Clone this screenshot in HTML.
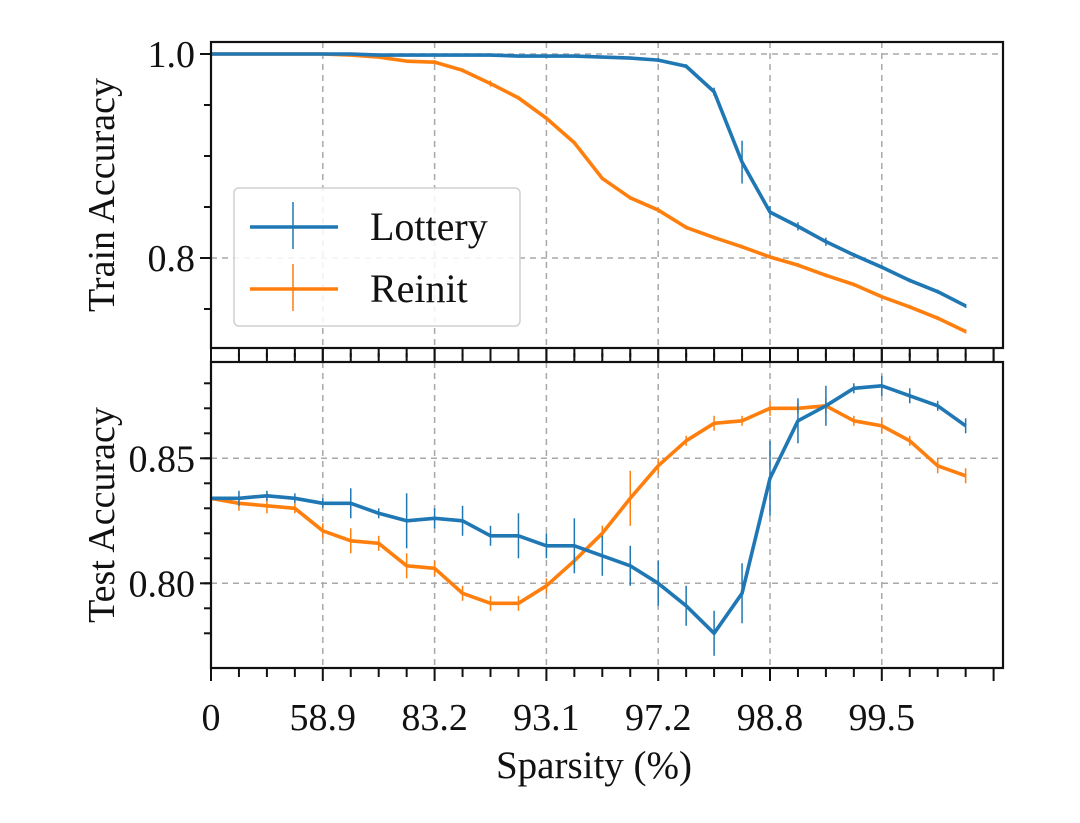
<!DOCTYPE html>
<html><head><meta charset="utf-8"><style>
html,body{margin:0;padding:0;background:#fff;}
svg text{font-family:"Liberation Serif",serif;fill:#111;}
</style></head><body>
<svg id="chart" width="1080" height="818" viewBox="0 0 1080 818" xmlns="http://www.w3.org/2000/svg"></svg>
<script>
const xTickLabels=["0","58.9","83.2","93.1","97.2","98.8","99.5"];
const lotteryTrain=[1.0,1.0,1.0,1.0,1.0,1.0,0.999,0.999,0.999,0.999,0.999,0.998,0.998,0.998,0.997,0.996,0.994,0.988,0.963,0.894,0.845,0.831,0.816,0.803,0.791,0.778,0.767,0.753];
const lotteryTrainErr=[0,0,0,0,0,0,0,0,0,0,0,0,0,0,0,0,0.002,0.002,0.004,0.021,0.006,0.004,0.004,0.002,0.002,0.002,0.002,0.002];
const reinitTrain=[1.0,1.0,1.0,1.0,1.0,0.999,0.997,0.993,0.992,0.984,0.971,0.957,0.937,0.913,0.878,0.859,0.847,0.830,0.820,0.811,0.801,0.793,0.783,0.774,0.762,0.752,0.741,0.728];
const reinitTrainErr=[0,0,0,0,0,0,0,0,0.002,0.002,0.003,0.002,0.002,0.002,0.002,0.002,0.002,0.002,0.002,0.002,0.002,0.002,0.002,0.002,0.002,0.002,0.002,0.002];
const lotteryTest=[0.834,0.834,0.835,0.834,0.832,0.832,0.828,0.825,0.826,0.825,0.819,0.819,0.815,0.815,0.811,0.807,0.800,0.791,0.780,0.796,0.842,0.865,0.871,0.878,0.879,0.875,0.871,0.863];
const lotteryTestErr=[0.002,0.003,0.002,0.002,0.002,0.006,0.002,0.011,0.004,0.006,0.004,0.009,0.005,0.011,0.008,0.008,0.009,0.008,0.009,0.012,0.015,0.009,0.008,0.002,0.004,0.003,0.002,0.003];
const reinitTest=[0.834,0.832,0.831,0.830,0.821,0.817,0.816,0.807,0.806,0.796,0.792,0.792,0.799,0.809,0.820,0.834,0.847,0.857,0.864,0.865,0.870,0.870,0.871,0.865,0.863,0.857,0.847,0.843];
const reinitTestErr=[0.002,0.003,0.003,0.002,0.003,0.005,0.003,0.005,0.003,0.003,0.003,0.003,0.003,0.003,0.003,0.011,0.003,0.002,0.003,0.002,0.003,0.002,0.003,0.002,0.003,0.002,0.003,0.003];

const NS="http://www.w3.org/2000/svg";
const svg=document.getElementById('chart');
function el(tag,attrs,parent){const e=document.createElementNS(NS,tag);for(const k in attrs)e.setAttribute(k,attrs[k]);(parent||svg).appendChild(e);return e;}
const X0=211,X1=1003,DX=27.95;
function xs(i){return X0+i*DX;}
const topP={y0:42,y1:348,ys:v=>54+(1-v)*1020};
const botP={y0:362,y1:668,ys:v=>583.3-(v-0.80)*2500};
const BLUE="#1f77b4",ORANGE="#ff7f0e";

function panel(name){
  const g=el('g',{});
  
  
  return g;
}
function grid(g,p,yvals){
  for(let k=1;k<7;k++){const l=el('line',{x1:xs(4*k),x2:xs(4*k),y1:p.y0,y2:p.y1,stroke:"#a8a8a8","stroke-width":1.5,"stroke-dasharray":"6,5"},g);
    
    }
  yvals.forEach(v=>{const l=el('line',{x1:X0,x2:X1,y1:p.ys(v),y2:p.ys(v),stroke:"#a8a8a8","stroke-width":1.5,"stroke-dasharray":"6,5"},g);
    
    });
}
function series(g,p,vals,errs,color,name){
  const s=el('g',{},g);
  
  
  vals.forEach((v,i)=>{if(errs[i]>0){const e=el('line',{x1:xs(i),x2:xs(i),y1:p.ys(v-errs[i]),y2:p.ys(v+errs[i]),stroke:color,"stroke-width":1.5},s);
    
    }});
  const pl=el('polyline',{points:vals.map((v,i)=>xs(i)+","+p.ys(v)).join(" "),fill:"none",stroke:color,"stroke-width":3.6,"stroke-linejoin":"round"},s);
  
  
}
function frame(g,p,yTicks,yLabels,minorY,tickTop,tickBottom){
  el('rect',{x:X0,y:p.y0,width:X1-X0,height:p.y1-p.y0,fill:"none",stroke:"#111","stroke-width":2.2},g);
  for(let i=0;i<=28;i++){const len=(i%4==0)?13:9;
    if(tickBottom) el('line',{x1:xs(i),x2:xs(i),y1:p.y1,y2:p.y1+len,stroke:"#111","stroke-width":2},g);
    if(tickTop) el('line',{x1:xs(i),x2:xs(i),y1:p.y0,y2:p.y0-len,stroke:"#111","stroke-width":2},g);}
  minorY.forEach(v=>el('line',{x1:X0-7,x2:X0,y1:p.ys(v),y2:p.ys(v),stroke:"#111","stroke-width":2},g));
  yTicks.forEach((v,i)=>{el('line',{x1:X0-11,x2:X0,y1:p.ys(v),y2:p.ys(v),stroke:"#111","stroke-width":2},g);
    const t=el('text',{x:X0-16,y:p.ys(v)+13,"text-anchor":"end","font-size":38},g);t.textContent=yLabels[i];
    
    });
}
const gt=panel('train-accuracy-panel');
grid(gt,topP,[1.0,0.8]);
series(gt,topP,reinitTrain,reinitTrainErr,ORANGE,'reinit-train-series');
series(gt,topP,lotteryTrain,lotteryTrainErr,BLUE,'lottery-train-series');
frame(gt,topP,[1.0,0.8],["1.0","0.8"],[0.95,0.9,0.85,0.75],false,true);
const gb=panel('test-accuracy-panel');
grid(gb,botP,[0.85,0.80]);
series(gb,botP,reinitTest,reinitTestErr,ORANGE,'reinit-test-series');
series(gb,botP,lotteryTest,lotteryTestErr,BLUE,'lottery-test-series');
const mb=[];for(let v=0.78;v<=0.881;v+=0.01)mb.push(+v.toFixed(2));
frame(gb,botP,[0.85,0.80],["0.85","0.80"],mb,true,true);
xTickLabels.forEach((s,k)=>{const t=el('text',{x:xs(4*k),y:730,"text-anchor":"middle","font-size":38});t.textContent=s;
  
  });
let t=el('text',{x:0,y:0,"text-anchor":"middle","font-size":38,transform:"translate(114,195) rotate(-90)"});t.textContent="Train Accuracy";


t=el('text',{x:0,y:0,"text-anchor":"middle","font-size":38,transform:"translate(114,515) rotate(-90)"});t.textContent="Test Accuracy";


t=el('text',{x:594,y:778,"text-anchor":"middle","font-size":39});t.textContent="Sparsity (%)";


const lg=el('g',{});


el('rect',{x:234,y:188,width:286,height:138,rx:5,fill:"rgba(255,255,255,0.85)",stroke:"#d0d0d0","stroke-width":1.5},lg);
[["Lottery",BLUE,227],["Reinit",ORANGE,289]].forEach(([n,c,y])=>{
  const e=el('g',{},lg);
  
  
  el('line',{x1:250,x2:338,y1:y,y2:y,stroke:c,"stroke-width":3.6},e);
  el('line',{x1:293,x2:293,y1:y-25,y2:y+22,stroke:c,"stroke-width":1.5},e);
  const tt=el('text',{x:370,y:y+13,"font-size":40},e);tt.textContent=n;
});
</script>
</body></html>
